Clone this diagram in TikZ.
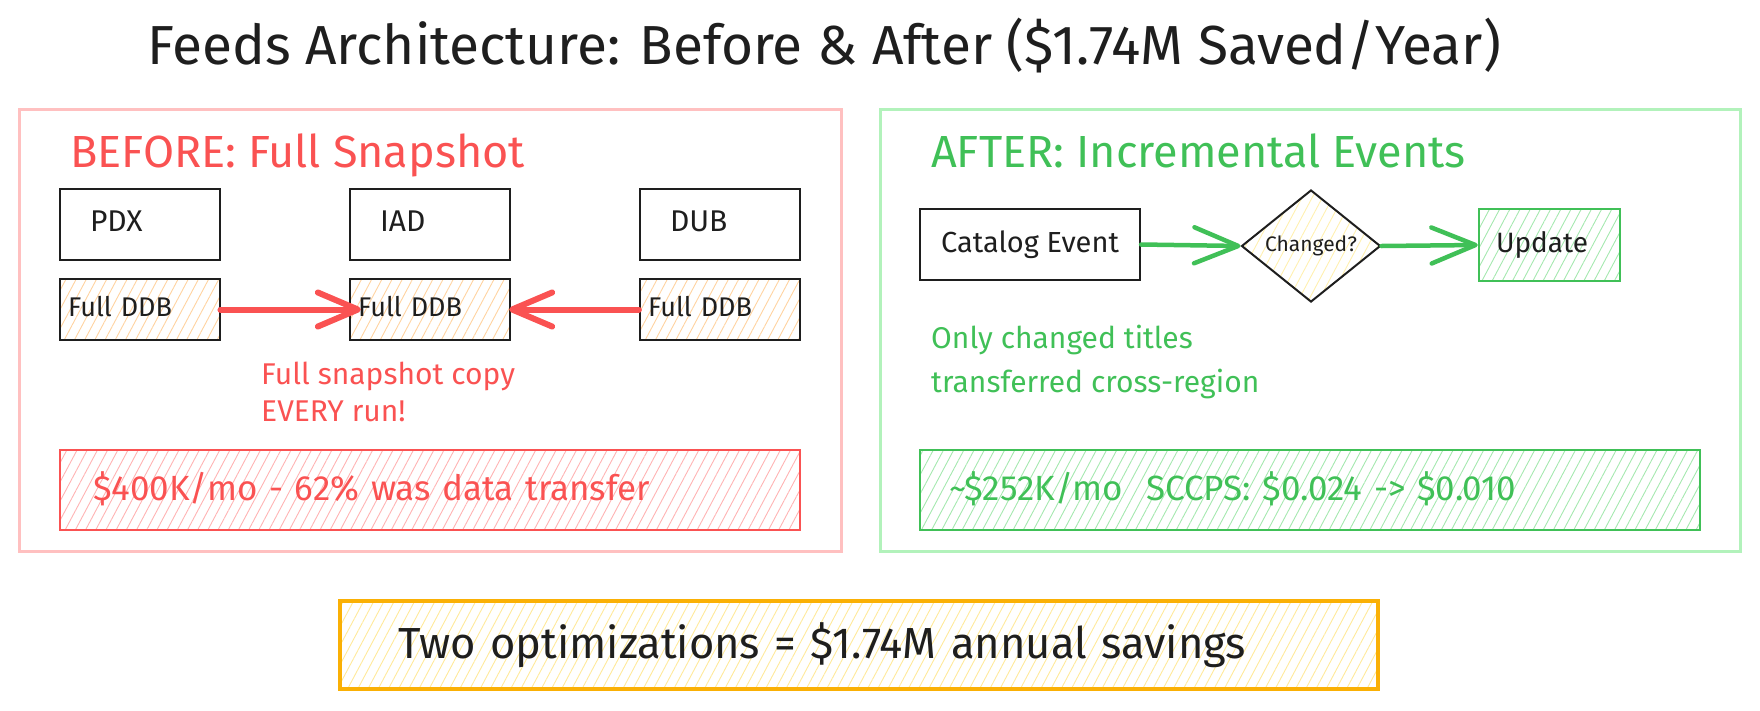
\documentclass[tikz,border=0pt]{standalone}
\usepackage{fontspec}
\setmainfont{Fira Sans}
\usetikzlibrary{arrows.meta,patterns.meta,shapes.geometric}
\definecolor{redc}{HTML}{FA5252}
\definecolor{pinkc}{HTML}{FFC0C0}
\definecolor{redh}{HTML}{FFB3B3}
\definecolor{greenc}{HTML}{40C057}
\definecolor{lgreen}{HTML}{B2F2BB}
\definecolor{greenh}{HTML}{A5E8AF}
\definecolor{orangec}{HTML}{FAB005}
\definecolor{yellowh}{HTML}{FFE99A}
\definecolor{peach}{HTML}{FFD3A0}
\definecolor{lyellow}{HTML}{FFF0B0}
\definecolor{inkc}{HTML}{1E1E1E}
\tikzset{
  hatch/.style={pattern={Lines[angle=62,distance=9pt,line width=0.9pt]},pattern color=#1},
  frame/.style={draw=#1,line width=3pt,minimum width=0pt},
  regionbox/.style={draw=inkc,line width=2.2pt,minimum width=160pt,minimum height=71pt,
     inner xsep=30pt,text width=100pt,align=left,font=\fontsize{30}{34}\selectfont,text=inkc},
  ddbbox/.style={draw=inkc,line width=2.2pt,hatch=peach,minimum width=160pt,minimum height=61pt,
     inner xsep=8pt,text width=144pt,align=left,font=\fontsize{27}{30}\selectfont,text=inkc},
  costbar/.style={line width=2.2pt,minimum height=80pt,align=left,inner ysep=0pt},
  redarrow/.style={draw=redc,line width=6pt,line cap=round,-{Straight Barb[length=40pt,width=34pt,round]}},
  greenarrow/.style={draw=greenc,line width=4.5pt,line cap=round,-{Straight Barb[length=44pt,width=36pt,round]}},
}
\begin{document}
\begin{tikzpicture}[x=1pt,y=-1pt]
\useasboundingbox (0,0) rectangle (1760,710);
% title
\node[anchor=base,font=\fontsize{55}{62}\selectfont,text=inkc,inner sep=0] (title) at (824,64)
  {Feeds Architecture: Before \& After (\$1.74M Saved/Year)};

% BEFORE frame
\node[frame=pinkc,minimum width=822pt,minimum height=442pt] (before) at (430,330) {};
\node[anchor=base west,font=\fontsize{45}{52}\selectfont,text=redc,inner sep=0] (btitle) at (70,167) {BEFORE: Full Snapshot};
\node[regionbox] (pdx) at (140,224.5) {PDX\vphantom{g}};
\node[regionbox] (iad) at (430,224.5) {IAD\vphantom{g}};
\node[regionbox] (dub) at (720,224.5) {DUB\vphantom{g}};
\node[ddbbox] (d1) at (140,309.5) {Full DDB\vphantom{g}};
\node[ddbbox] (d2) at (430,309.5) {Full DDB\vphantom{g}};
\node[ddbbox] (d3) at (720,309.5) {Full DDB\vphantom{g}};
\draw[redarrow] (d1.east) -- ([xshift=12pt]d2.west);
\draw[redarrow] (d3.west) -- ([xshift=-2pt]d2.east);
\node[anchor=north west,align=left,font=\fontsize{30}{37}\selectfont,text=redc,inner sep=0] (bnote) at (261,362)
  {Full snapshot copy\\EVERY run!};
\node[costbar,draw=redc,hatch=redh,minimum width=740pt,inner xsep=33pt,text width=674pt,
  font=\fontsize{35}{40}\selectfont,text=redc] (bcost) at (430,490) {\$400K/mo - 62\% was data transfer\vphantom{g}};

% AFTER frame
\node[frame=lgreen,minimum width=860pt,minimum height=442pt] (after) at (1310,330) {};
\node[anchor=base west,font=\fontsize{45}{52}\selectfont,text=greenc,inner sep=0] (atitle) at (931,167) {AFTER: Incremental Events};
\node[draw=inkc,line width=2.2pt,minimum width=220pt,minimum height=71pt,font=\fontsize{29}{32}\selectfont,text=inkc] (cat) at (1030,244.5) {Catalog Event};
\node[diamond,draw=inkc,line width=2pt,hatch=lyellow,minimum width=139pt,minimum height=100pt,inner sep=0,
  font=\fontsize{21}{24}\selectfont,text=inkc] (dia) at (1311,246) {Changed?};
\node[draw=greenc,line width=2.5pt,hatch=greenh,minimum width=141pt,minimum height=72pt,inner xsep=10pt,
  text width=121pt,align=left,font=\fontsize{28}{32}\selectfont,text=inkc] (upd) at (1549.5,245) {\hspace*{7pt}Update};
\draw[greenarrow] (cat.east) -- (dia.west);
\draw[greenarrow] (dia.east) -- (upd.west);
\node[anchor=north west,align=left,font=\fontsize{30}{44}\selectfont,text=greenc,inner sep=0] (anote) at (931,325)
  {Only changed titles\\transferred cross-region};
\node[costbar,draw=greenc,hatch=greenh,minimum width=780pt,inner xsep=29pt,text width=722pt,
  font=\fontsize{35}{40}\selectfont,text=greenc] (acost) at (1310,490) {\textasciitilde\$252K/mo\ \ SCCPS: \$0.024 -> \$0.010\vphantom{g}};

% bottom summary
\node[draw=orangec,line width=4pt,hatch=yellowh,minimum width=1038pt,minimum height=88pt,inner xsep=58pt,
  text width=922pt,align=left,font=\fontsize{43.5}{48}\selectfont,text=inkc] (sum) at (859,645)
  {Two optimizations = \$1.74M annual savings};
\end{tikzpicture}
\end{document}
